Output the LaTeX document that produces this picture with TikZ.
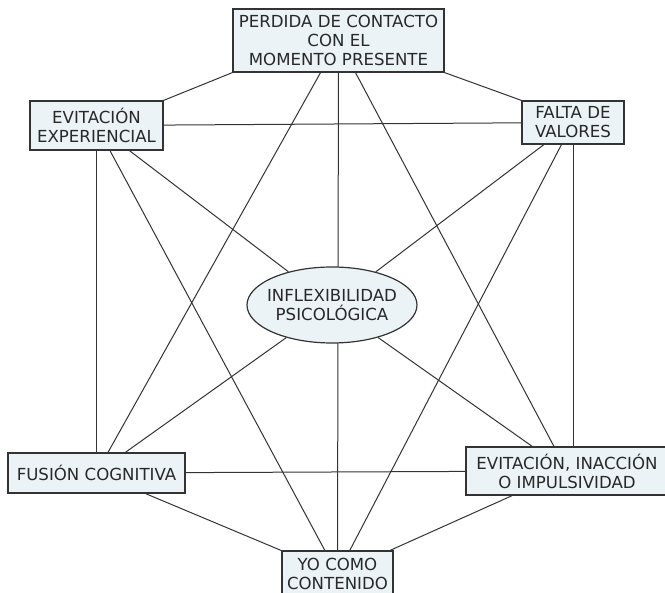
\documentclass[tikz,border=0pt]{standalone}
\usepackage{fontspec}
\setmainfont{DejaVu Sans}
\usetikzlibrary{shapes.geometric,backgrounds}
\definecolor{boxfill}{RGB}{235,243,246}
\definecolor{edgecol}{RGB}{51,51,51}
\definecolor{textcol}{RGB}{40,40,40}
\begin{document}
\begin{tikzpicture}[x=1pt,y=-1pt,
  concept/.style={draw=edgecol, line width=1.2pt, fill=boxfill, inner sep=0pt, align=center,
    font=\fontsize{16.6}{19}\selectfont, text=textcol},
  link/.style={draw=edgecol, line width=1pt}]
\useasboundingbox (0,0) rectangle (665,593);
\node[concept, minimum width=211pt, minimum height=63pt] (T) at (338.5,40.5) {PERDIDA DE CONTACTO\\CON EL\\MOMENTO PRESENTE};
\node[concept, minimum width=133pt, minimum height=49pt] (EE) at (96.5,125.5) {EVITACIÓN\\EXPERIENCIAL};
\node[concept, minimum width=102pt, minimum height=43pt] (FV) at (573,122.5) {FALTA DE\\VALORES};
\node[concept, ellipse, minimum width=170pt, minimum height=76pt] (C) at (332,305) {\makebox[0pt]{INFLEXIBILIDAD}\\\makebox[0pt]{PSICOLÓGICA}};
\node[concept, minimum width=177pt, minimum height=40pt] (FC) at (96.5,473) {FUSIÓN COGNITIVA};
\node[concept, minimum width=202pt, minimum height=48pt] (EI) at (567,471) {EVITACIÓN, INACCIÓN\\O IMPULSIVIDAD};
\node[concept, minimum width=111pt, minimum height=46pt] (Y) at (337.5,574) {YO COMO\\CONTENIDO};
\begin{scope}[on background layer]
\draw[link] (T.south west) -- (EE.north east);
\draw[link] (T.south east) -- (FV.north west);
\draw[link] (EE) -- (FV);
\draw[link] (T) -- (Y);
\draw[link] (T) -- (FC);
\draw[link] (T) -- (EI);
\draw[link] (EE) -- (C);
\draw[link] (EE) -- (FC);
\draw[link] (EE) -- (Y);
\draw[link] (FV) -- (C);
\draw[link] (FV.south) -- (FV.south |- EI.north);
\draw[link] (FV) -- (Y);
\draw[link] (C) -- (FC);
\draw[link] (C) -- (EI);
\draw[link] (FC) -- (EI);
\draw[link] (FC) -- (Y);
\draw[link] (EI) -- (Y);
\end{scope}
\end{tikzpicture}
\end{document}
